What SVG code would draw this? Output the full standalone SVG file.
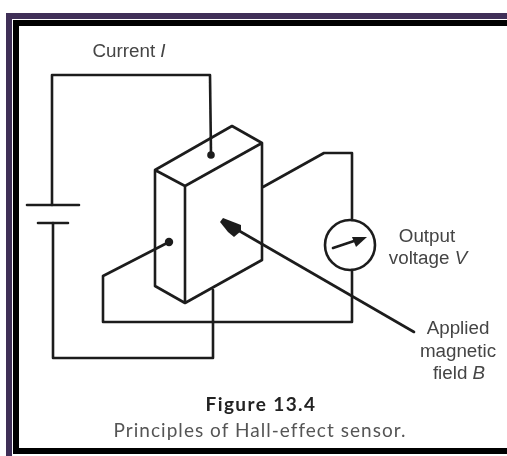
<svg xmlns="http://www.w3.org/2000/svg" width="507" height="456" viewBox="0 0 507 456">
<defs><filter id="soft" x="-5%" y="-5%" width="110%" height="110%"><feGaussianBlur stdDeviation="0.7"/></filter></defs>
<style>
.w{fill:none;stroke:#1c1c1c;stroke-width:2.6;stroke-linejoin:round;stroke-linecap:round}
.t{font-family:"Liberation Sans",Arial,sans-serif;font-size:18.8px;fill:#444;text-anchor:middle}
.c{font-family:Lato,"Open Sans",sans-serif;text-anchor:middle;font-size:19px}
</style>
<rect width="507" height="456" fill="#fff"/>
<g id="frame">
<rect x="6" y="13" width="501" height="443" fill="#3f2f57"/>
<rect x="12" y="19" width="495" height="437" fill="#fff"/>
<rect x="13" y="20" width="494" height="434" fill="#000"/>
<rect x="19" y="26" width="488" height="422" fill="#fff"/>
</g>
<g filter="url(#soft)">
<g id="connectors">
<path class="w" d="M52 205V75H210L211 155"/>
<path class="w" d="M53 223V358H213V290"/>
<path class="w" d="M263 187L324 153H352V220"/>
<path class="w" d="M352 270V322H103V276L169 242"/>
<path class="w" d="M414 332L236 229"/>
</g>
<g id="hall-element"><path class="w" d="M155 170L232 126L262 143L185 186ZM155 170V286L185 303V186M185 303L262 260V143"/><circle cx="211" cy="155" r="3.8" fill="#1c1c1c"/><circle cx="169" cy="242" r="4.2" fill="#1c1c1c"/></g>
<g id="battery"><path class="w" d="M27 205H79M38 223H68"/></g>
<g id="field-arrow"><path fill="#1c1c1c" d="M220 222L223 218L241 225L241 231L234 237L228 232Z"/></g>
<g id="meter"><circle class="w" cx="350" cy="245" r="25" fill="#fff"/><path class="w" d="M333 248L354 241"/><path fill="#1c1c1c" d="M367 237L352 237L356 247Z"/></g>
<g id="labels">
<text class="t" x="129" y="57">Current <tspan font-style="italic">I</tspan></text>
<text class="t" x="427" y="242">Output</text>
<text class="t" x="428" y="264">voltage <tspan font-style="italic">V</tspan></text>
<text class="t" x="458" y="334">Applied</text>
<text class="t" x="458" y="357">magnetic</text>
<text class="t" x="459" y="379">field <tspan font-style="italic">B</tspan></text>
<text class="c" x="261" y="411" font-weight="700" fill="#222" letter-spacing="1.4">Figure 13.4</text>
<text class="c" x="260" y="437" fill="#555" letter-spacing="1.03">Principles of Hall-effect sensor.</text>
</g>
</g>
</svg>
